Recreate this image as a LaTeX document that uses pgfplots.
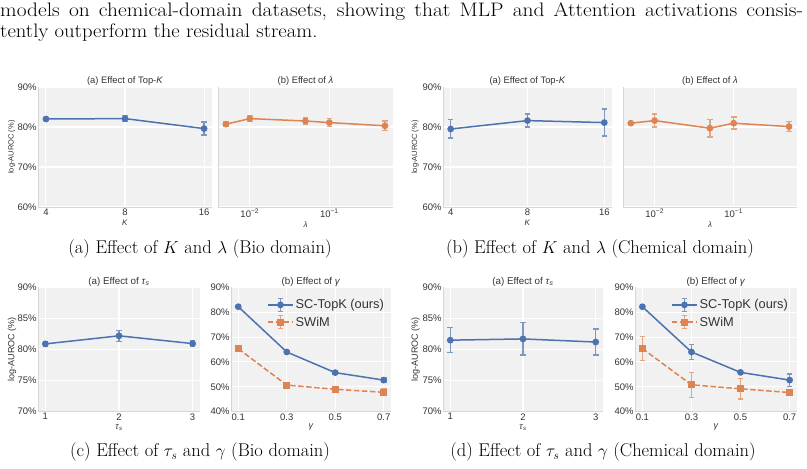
\documentclass[border=0pt]{standalone}
\usepackage{fontspec}
\newfontfamily\plotfont{Liberation Sans}
\usepackage{graphicx}
\usepackage{pgfplots}
\pgfplotsset{compat=1.18}

\definecolor{bluec}{HTML}{4C72B0}
\definecolor{orangec}{HTML}{DD8452}
\definecolor{bgc}{HTML}{F1F1F1}
\definecolor{spinec}{HTML}{D6D6D6}
\definecolor{tickc}{HTML}{333333}
\definecolor{errblue}{HTML}{7E98C3}
\definecolor{errorange}{HTML}{E3A582}

\pgfplotsset{
  sb/.style={
    scale only axis,
    clip=false,
    axis background/.style={fill=bgc},
    grid=major,
    major grid style={white, line width=1.1pt},
    axis x line*=bottom, axis y line*=left,
    axis line style={-, spinec, line width=0.8pt},
    major tick length=0pt, minor tick length=0pt,
    tick style={draw=none},
    every tick label/.append style={font=\plotfont\fontsize{9.5}{11}\selectfont, text=tickc},
    yticklabel style={inner sep=1.2pt},
    xticklabel style={inner sep=1.5pt},
    every axis title/.style={font=\plotfont\fontsize{9.4}{11}\selectfont, text=tickc, at={(axis description cs:0.5,1)}, anchor=center, yshift=6pt},
    every axis y label/.style={at={(axis description cs:0,0.5)}, rotate=90, anchor=center, font=\plotfont\fontsize{7.5}{8}\selectfont, text=tickc},
    every axis x label/.style={at={(axis description cs:0.5,0)}, anchor=center, font=\plotfont\fontsize{8}{9}\selectfont, text=tickc, yshift=-16pt},
  },
  bot/.style={
    every axis title/.style={font=\plotfont\fontsize{9.8}{11}\selectfont, text=tickc, at={(axis description cs:0.5,1)}, anchor=center, yshift=5.6pt},
    every axis x label/.style={at={(axis description cs:0.5,0)}, anchor=center, font=\plotfont\fontsize{9}{10}\selectfont, text=tickc, yshift=-15.5pt},
  },
  sc/.style={bluec, solid, line width=1.5pt, mark=*, mark size=2.6pt,
    mark options={solid, fill=bluec, draw=bluec},
    error bars/y dir=both, error bars/y explicit,
    error bars/error bar style={errblue, line width=1.4pt, solid},
    error bars/error mark options={rotate=90, errblue, line width=1.4pt, mark size=2.8pt, solid}},
  oc/.style={orangec, solid, line width=1.5pt, mark=*, mark size=2.6pt,
    mark options={solid, fill=orangec, draw=orangec},
    error bars/y dir=both, error bars/y explicit,
    error bars/error bar style={errorange, line width=1.4pt, solid},
    error bars/error mark options={rotate=90, errorange, line width=1.4pt, mark size=2.8pt, solid}},
  sw/.style={orangec, line width=1.5pt, dash pattern=on 5.5pt off 2.5pt, mark=square*, mark size=2.7pt,
    mark options={solid, fill=orangec, draw=orangec},
    error bars/y dir=both, error bars/y explicit,
    error bars/error bar style={errorange, line width=1.4pt, solid},
    error bars/error mark options={rotate=90, errorange, line width=1.4pt, mark size=2.8pt, solid}},
  sclegend/.style={legend image code/.code={
    \draw[errblue, line width=1.4pt, solid] (12.5pt,-6.5pt) -- (12.5pt,6.5pt) (9.7pt,-6.5pt) -- (15.3pt,-6.5pt) (9.7pt,6.5pt) -- (15.3pt,6.5pt);
    \draw[mark repeat=2, mark phase=2, ##1] plot coordinates {(0pt,0pt) (12.5pt,0pt) (25pt,0pt)};}},
  swlegend/.style={legend image code/.code={
    \draw[errorange, line width=1.4pt, solid] (12.5pt,-6.5pt) -- (12.5pt,6.5pt) (9.7pt,-6.5pt) -- (15.3pt,-6.5pt) (9.7pt,6.5pt) -- (15.3pt,6.5pt);
    \draw[mark repeat=2, mark phase=2, ##1] plot coordinates {(0pt,0pt) (12.5pt,0pt) (25pt,0pt)};}},
  leg/.style={legend cell align=left,
    legend style={draw=none, fill=none, at={(axis description cs:0,1)}, anchor=north west,
      xshift=36pt, yshift=-10pt, font=\plotfont\fontsize{12.8}{14}\selectfont, text=tickc,
      inner sep=0pt, row sep=2.5pt, /tikz/every even column/.style={column sep=8.5pt}}},
}

\newcommand{\capfont}{\fontsize{18.5}{22}\selectfont}
\newcommand{\bodyfont}{\fontsize{19.5}{23}\selectfont}

\begin{document}
\begin{tikzpicture}
\path[use as bounding box] (0pt,0pt) rectangle (807pt,469pt);

% body text
\node[anchor=base west, inner sep=0pt] at (0pt,452pt) {\bodyfont\scalebox{1.10}[1]{\makebox[730pt][s]{models on chemical-domain datasets, showing that MLP and Attention activations consis-}}};
\node[anchor=base west, inner sep=0pt] at (0pt,431pt) {\bodyfont\scalebox{1.06}[1]{tently outperform the residual stream.}};

% ===== (a) Bio: Top-K =====
\begin{axis}[sb, at={(38pt,262pt)}, anchor=south west, width=174pt, height=120pt,
  xmode=log, log basis x=2, xmin=3.732, xmax=17.148, xtick={4,8,16}, xticklabels={4,8,16},
  ymin=60, ymax=90, ytick={60,70,80,90}, yticklabels={60\%,70\%,80\%,90\%},
  title={(a) Effect of Top-\textit{K}}, xlabel={\textit{K}}, ylabel={log-AUROC (\%)},
  ylabel style={at={(axis description cs:-0.151,0.5)}}]
\addplot[sc] coordinates {(4,82.0) +- (0,0.3) (8,82.1) +- (0,0.8) (16,79.6) +- (0,1.6)};
\end{axis}

% ===== (a) Bio: lambda =====
\begin{axis}[sb, at={(218pt,262pt)}, anchor=south west, width=175pt, height=120pt,
  xmode=log, xmin=0.003981, xmax=0.631, xtick={0.01,0.1}, xticklabels={10\textsuperscript{−2},10\textsuperscript{−1}},
  ymin=60, ymax=90, ytick={60,70,80,90}, yticklabels={},
  title={(b) Effect of \textit{λ}}, xlabel={\textit{λ}}, xlabel style={yshift=-2pt}]
\addplot[oc] coordinates {(0.005,80.7) +- (0,0.5) (0.01,82.1) +- (0,0.8) (0.05,81.5) +- (0,0.75) (0.1,81.1) +- (0,1.0) (0.5,80.3) +- (0,1.2)};
\end{axis}

% ===== (b) Chem: Top-K =====
\begin{axis}[sb, at={(443pt,262pt)}, anchor=south west, width=169pt, height=120pt,
  xmode=log, log basis x=2, xmin=3.732, xmax=17.148, xtick={4,8,16}, xticklabels={4,8,16},
  ymin=60, ymax=90, ytick={60,70,80,90}, yticklabels={60\%,70\%,80\%,90\%},
  title={(a) Effect of Top-\textit{K}}, xlabel={\textit{K}}, ylabel={log-AUROC (\%)},
  ylabel style={at={(axis description cs:-0.164,0.5)}}]
\addplot[sc] coordinates {(4,79.5) +- (0,2.3) (8,81.6) +- (0,1.6) (16,81.1) +- (0,3.35)};
\end{axis}

% ===== (b) Chem: lambda =====
\begin{axis}[sb, at={(623pt,262pt)}, anchor=south west, width=174pt, height=120pt,
  xmode=log, xmin=0.003981, xmax=0.631, xtick={0.01,0.1}, xticklabels={10\textsuperscript{−2},10\textsuperscript{−1}},
  ymin=60, ymax=90, ytick={60,70,80,90}, yticklabels={},
  title={(b) Effect of \textit{λ}}, xlabel={\textit{λ}}, xlabel style={yshift=-2pt}]
\addplot[oc] coordinates {(0.005,80.95) +- (0,0.2) (0.01,81.6) +- (0,1.6) (0.05,79.7) +- (0,2.2) (0.1,80.95) +- (0,1.5) (0.5,80.1) +- (0,1.2)};
\end{axis}

% ===== (c) Bio: tau =====
\begin{axis}[sb, bot, at={(38pt,57.3pt)}, anchor=south west, width=162pt, height=124.4pt,
  xmin=0.9, xmax=3.1, xtick={1,2,3}, xticklabels={1,2,3},
  ymin=70, ymax=90, ytick={70,75,80,85,90}, yticklabels={70\%,75\%,80\%,85\%,90\%},
  title={(a) Effect of \textit{τ}\textsubscript{\textit{s}}},
  xlabel={\textit{τ}\textsubscript{\textit{s}}}, ylabel={log-AUROC (\%)},
  ylabel style={at={(axis description cs:-0.1605,0.5)}, font=\plotfont\fontsize{9}{10}\selectfont}]
\addplot[sc] coordinates {(1,80.9) +- (0,0.35) (2,82.2) +- (0,0.9) (3,80.95) +- (0,0.45)};
\end{axis}

% ===== (c) Bio: gamma =====
\begin{axis}[sb, bot, leg, at={(231pt,57.3pt)}, anchor=south west, width=160pt, height=124.4pt,
  xmin=0.07, xmax=0.73, xtick={0.1,0.3,0.5,0.7}, xticklabels={0.1,0.3,0.5,0.7},
  ymin=40, ymax=90, ytick={40,50,60,70,80,90}, yticklabels={40\%,50\%,60\%,70\%,80\%,90\%},
  title={(b) Effect of \textit{γ}}, xlabel={\textit{γ}}]
\addplot[sc, sclegend] coordinates {(0.1,82.2) +- (0,0.4) (0.3,64.0) +- (0,0.6) (0.5,55.7) +- (0,0.6) (0.7,52.7) +- (0,0.8)};
\addlegendentry{SC-TopK (ours)}
\addplot[sw, swlegend] coordinates {(0.1,65.3) +- (0,0.6) (0.3,50.7) +- (0,0.8) (0.5,49.0) +- (0,0.7) (0.7,47.8) +- (0,1.3)};
\addlegendentry{SWiM}
\end{axis}

% ===== (d) Chem: tau =====
\begin{axis}[sb, bot, at={(443pt,57.3pt)}, anchor=south west, width=160pt, height=124.4pt,
  xmin=0.9, xmax=3.1, xtick={1,2,3}, xticklabels={1,2,3},
  ymin=70, ymax=90, ytick={70,75,80,85,90}, yticklabels={70\%,75\%,80\%,85\%,90\%},
  title={(a) Effect of \textit{τ}\textsubscript{\textit{s}}},
  xlabel={\textit{τ}\textsubscript{\textit{s}}}, ylabel={log-AUROC (\%)},
  ylabel style={at={(axis description cs:-0.172,0.5)}, font=\plotfont\fontsize{9}{10}\selectfont}]
\addplot[sc] coordinates {(1,81.5) +- (0,2.0) (2,81.7) +- (0,2.6) (3,81.2) +- (0,2.1)};
\end{axis}

% ===== (d) Chem: gamma =====
\begin{axis}[sb, bot, leg, at={(635pt,57.3pt)}, anchor=south west, width=162pt, height=124.4pt,
  xmin=0.07, xmax=0.73, xtick={0.1,0.3,0.5,0.7}, xticklabels={0.1,0.3,0.5,0.7},
  ymin=40, ymax=90, ytick={40,50,60,70,80,90}, yticklabels={40\%,50\%,60\%,70\%,80\%,90\%},
  title={(b) Effect of \textit{γ}}, xlabel={\textit{γ}}]
\addplot[sc, sclegend] coordinates {(0.1,82.2) +- (0,0.4) (0.3,64.0) +- (0,2.9) (0.5,55.8) +- (0,0.4) (0.7,52.7) +- (0,2.5)};
\addlegendentry{SC-TopK (ours)}
\addplot[sw, swlegend] coordinates {(0.1,65.4) +- (0,4.8) (0.3,50.8) +- (0,5.0) (0.5,49.2) +- (0,4.1) (0.7,47.7) +- (0,0.6)};
\addlegendentry{SWiM}
\end{axis}

% sub-captions
\node[anchor=base, inner sep=0pt] at (200pt,215pt) {\capfont (a) Effect of $K$ and $\lambda$ (Bio domain)};
\node[anchor=base, inner sep=0pt] at (600pt,215pt) {\capfont (b) Effect of $K$ and $\lambda$ (Chemical domain)};
\node[anchor=base, inner sep=0pt] at (200pt,12pt) {\capfont (c) Effect of $\tau_s$ and $\gamma$ (Bio domain)};
\node[anchor=base, inner sep=0pt] at (603pt,12pt) {\capfont (d) Effect of $\tau_s$ and $\gamma$ (Chemical domain)};
\end{tikzpicture}
\end{document}
